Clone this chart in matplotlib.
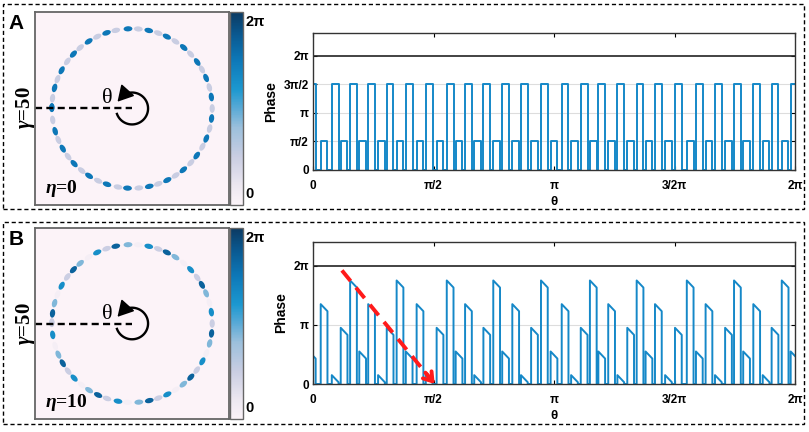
import numpy as np
import matplotlib.pyplot as plt
from matplotlib.colors import LinearSegmentedColormap, Normalize
from matplotlib.patches import Ellipse, Rectangle
import matplotlib.colorbar as mcolorbar

plt.rcParams['font.family'] = ['Liberation Sans', 'DejaVu Sans']
plt.rcParams['mathtext.fontset'] = 'custom'
plt.rcParams['mathtext.rm'] = 'Liberation Serif'
plt.rcParams['mathtext.bf'] = 'Liberation Serif:bold'
plt.rcParams['mathtext.it'] = 'Liberation Serif:italic'
plt.rcParams['mathtext.bfit'] = 'Liberation Serif:italic:bold'

# pulse (dot) start positions along theta, in units of pi
theta_start = [-0.017, 0.032, 0.078, 0.115, 0.154, 0.192, 0.229, 0.270, 0.306, 0.347,
               0.385, 0.430, 0.468, 0.513, 0.555, 0.592, 0.631, 0.669, 0.707, 0.748,
               0.785, 0.827, 0.863, 0.905, 0.946, 0.986, 1.032, 1.071, 1.111, 1.149,
               1.184, 1.225, 1.263, 1.304, 1.343, 1.380, 1.419, 1.461, 1.502, 1.551,
               1.589, 1.629, 1.668, 1.710, 1.747, 1.785, 1.827, 1.866, 1.903, 1.945,
               1.982]
dot_width = 0.028

# phase values in units of pi (start and end of each pulse)
phase_A = [1.5, 0.5] * 25 + [1.5]
phase_B_start = [0.55, 1.35, 0.15, 0.95, 1.75] * 10 + [0.55]
phase_B_end = [0.43, 1.23, 0.03, 0.83, 1.63] * 10 + [0.43]

ticks_A = [0, 0.5, 1, 1.5, 2]
ticklabels_A = ['0', 'π/2', 'π', '3π/2', '2π']
ticks_B = [0, 1, 2]
ticklabels_B = ['0', 'π', '2π']
xticks = [0, 0.5, 1, 1.5, 2]
xticklabels = ['0', 'π/2', 'π', '3/2π', '2π']

arrow_tail = (0.12, 1.92)
arrow_tip = (0.505, 0.0)

cmap = LinearSegmentedColormap.from_list('phase', [
    (0.0, '#fbf3f8'), (0.1, '#ece7f0'), (0.25, '#c9cde2'), (0.4, '#9cc0dc'),
    (0.5, '#5aaad6'), (0.6, '#1c98d0'), (0.75, '#0d78b8'), (0.88, '#0a5a92'),
    (1.0, '#0b3a62')])
bg = '#fcf3f8'
line_c = '#1588c8'

fig = plt.figure(figsize=(8.09, 4.32), dpi=100)


def draw_ring(ax, ph0, ph1, eta_txt):
    ax.set_facecolor(bg)
    ax.set_xlim(-1.21, 1.21)
    ax.set_ylim(-1.21, 1.21)
    ax.set_xticks([])
    ax.set_yticks([])
    for sp in ax.spines.values():
        sp.set_color('#666666')
        sp.set_linewidth(1.3)
    for s, a, b in zip(theta_start, ph0, ph1):
        ang = np.pi * (1 + s + dot_width / 2)
        col = cmap((a + b) / 4)
        ax.add_patch(Ellipse((np.cos(ang), np.sin(ang)), 0.11, 0.065,
                             angle=np.degrees(ang) + 90, color=col, lw=0))
    # dashed radius and rotation arrow
    ax.plot([-1.21, 0], [0, 0], color='black', lw=1.7, dashes=(3, 1.8))
    t = np.radians(np.linspace(200, 490, 100))
    r = 0.2
    ax.plot(r * np.cos(t), r * np.sin(t), color='black', lw=1.7)
    a1, a2 = np.radians(482), np.radians(515)
    ax.annotate('', xy=(r * np.cos(a2), r * np.sin(a2)), xytext=(r * np.cos(a1), r * np.sin(a1)),
                arrowprops=dict(arrowstyle='-|>, head_length=0.8, head_width=0.45',
                                mutation_scale=12, color='black', lw=1.2,
                                shrinkA=0, shrinkB=0))
    ax.text(-0.31, 0.12, 'θ', family='Liberation Serif', fontsize=16, ha='center', va='center')
    ax.text(0.05, 0.03, eta_txt, transform=ax.transAxes, fontsize=14, ha='left', va='bottom',
            family='Liberation Serif', fontweight='bold')


def draw_cbar(cax):
    cb = mcolorbar.ColorbarBase(cax, cmap=cmap, norm=Normalize(0, 2 * np.pi))
    cb.set_ticks([])
    cb.outline.set_edgecolor('#666666')
    cb.outline.set_linewidth(1.0)
    cax.text(1.2, 0.985, '2π', transform=cax.transAxes, fontsize=10.5, fontweight='bold',
             ha='left', va='top')
    cax.text(1.2, 0.02, '0', transform=cax.transAxes, fontsize=10.5, fontweight='bold',
             ha='left', va='bottom')


def draw_phase(ax, ph0, ph1, yt, ytl):
    xs, ys = [], []
    for s, a, b in zip(theta_start, ph0, ph1):
        xs += [s, s, s + dot_width, s + dot_width]
        ys += [0, a, b, 0]
    ax.plot(xs, ys, color=line_c, lw=1.4)
    ax.axhline(2, color='#222222', lw=1.2)
    for v in yt:
        if 0 < v < 2:
            ax.axhline(v, color='#dddddd', lw=0.8, zorder=0)
    ax.set_xlim(0, 2)
    ax.set_ylim(0, 2.4)
    ax.set_xticks(xticks)
    ax.set_xticklabels(xticklabels, fontweight='bold', fontsize=8.5)
    ax.set_yticks(yt)
    ax.set_yticklabels(ytl, fontweight='bold', fontsize=8.5)
    ax.tick_params(direction='in', top=True, right=True, length=3, width=0.8, pad=3)
    ax.tick_params(axis='x', pad=7)
    for sp in ax.spines.values():
        sp.set_color('#333333')
        sp.set_linewidth(1.0)
    ax.set_xlabel('θ', fontweight='bold', fontsize=9.5, labelpad=3)
    ax.set_ylabel('Phase', fontweight='bold', fontsize=10)


# panel A
axA = fig.add_axes([0.0433, 0.5255, 0.2398, 0.4468])
draw_ring(axA, phase_A, phase_A, r'$\mathbfit{\eta}$=0')
cA = fig.add_axes([0.2843, 0.5255, 0.0161, 0.4468])
draw_cbar(cA)
pA = fig.add_axes([0.3869, 0.6065, 0.5958, 0.3171])
draw_phase(pA, phase_A, phase_A, ticks_A, ticklabels_A)

# panel B
axB = fig.add_axes([0.0433, 0.0301, 0.2398, 0.4421])
draw_ring(axB, phase_B_start, phase_B_end, r'$\mathbfit{\eta}$=10')
cB = fig.add_axes([0.2843, 0.0301, 0.0161, 0.4421])
draw_cbar(cB)
pB = fig.add_axes([0.3869, 0.1111, 0.5958, 0.3287])
draw_phase(pB, phase_B_start, phase_B_end, ticks_B, ticklabels_B)

# red dashed arrow in B
dx, dy = arrow_tip[0] - arrow_tail[0], arrow_tip[1] - arrow_tail[1]
pB.plot([arrow_tail[0], arrow_tip[0] - 0.03 * dx], [arrow_tail[1], arrow_tip[1] - 0.03 * dy],
        color='#ff1a1a', lw=2.8, dashes=(3.5, 2.2), zorder=5)
pB.annotate('', xy=arrow_tip, xytext=(arrow_tip[0] - 0.1 * dx, arrow_tip[1] - 0.1 * dy),
            arrowprops=dict(arrowstyle='->, head_length=0.6, head_width=0.4', color='#ff1a1a',
                            lw=2.8, shrinkA=0, shrinkB=0), zorder=6)

# panel letters, gamma labels, dashed frames
fig.text(0.011, 0.968, 'A', fontsize=15, fontweight='bold', ha='left', va='top')
fig.text(0.011, 0.468, 'B', fontsize=15, fontweight='bold', ha='left', va='top')
for yc in [0.75, 0.25]:
    fig.text(0.031, yc, r'$\mathbfit{\gamma}$=50', fontsize=15, rotation=90,
             ha='center', va='center', family='Liberation Serif', fontweight='bold')
fig.add_artist(Rectangle((0.0037, 0.5162), 0.990, 0.4745, transform=fig.transFigure,
                         fill=False, ec='black', lw=1.0, ls=(0, (3, 2))))
fig.add_artist(Rectangle((0.0037, 0.0185), 0.990, 0.4676, transform=fig.transFigure,
                         fill=False, ec='black', lw=1.0, ls=(0, (3, 2))))

fig.savefig('out.png', dpi=100)
